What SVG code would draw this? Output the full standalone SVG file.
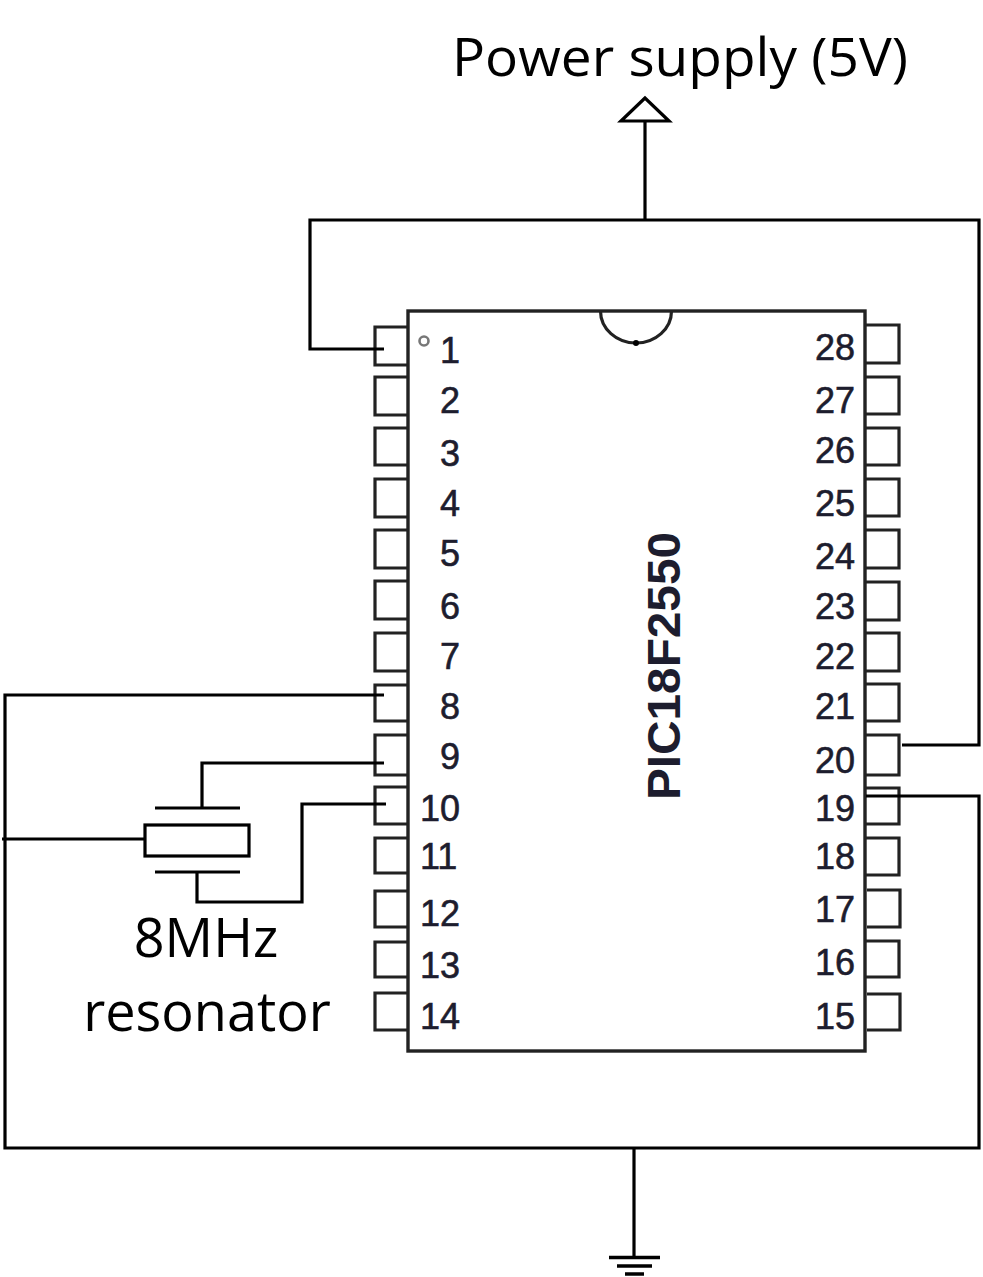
<svg xmlns="http://www.w3.org/2000/svg" width="983" height="1277" viewBox="0 0 983 1277">
<style>
.w{fill:none;stroke:#000;stroke-width:3.2}
.c{fill:none;stroke:#222;stroke-width:3.4}
.p{fill:none;stroke:#222;stroke-width:3.2}
.n{font-family:"Liberation Sans",Arial,sans-serif;font-size:36px;fill:#1d1d2e;stroke:#1d1d2e;stroke-width:.6}
.l{font-family:"Open Sans","Noto Sans",sans-serif;font-size:54px;fill:#000;text-anchor:middle}
</style>
<rect width="983" height="1277" fill="#fff"/>
<g id="chip">
<rect class="c" x="408" y="311" width="457" height="740"/>
<path class="p" d="M600.500 311A35.500 32 0 0 0 671.500 311"/>
<circle cx="636" cy="343" r="3" fill="#000"/>
<circle cx="424" cy="341" r="4.500" fill="none" stroke="#777" stroke-width="2.600"/>
<text transform="translate(680 800) rotate(-90)" font-family="Liberation Sans,Arial,sans-serif" font-weight="bold" font-size="47" fill="#1d1d2e" textLength="268" lengthAdjust="spacingAndGlyphs">PIC18F2550</text>
</g>
<g id="pins-left">
<path class="p" d="M408 327H375V365H408M408 377H375V415H408M408 428H375V465H408M408 479H375V517H408M408 530H375V568H408M408 581H375V619H408M408 633H375V671H408M408 685H375V721H408M408 735H375V775H408M408 787H375V824H408M408 838H375V873H408M408 891H375V927H408M408 942H375V977H408M408 993H375V1030H408"/>
</g>
<g id="pins-right">
<path class="p" d="M865 325H899V363H865M865 377H899V414H865M865 428H899V465H865M865 479H899V516H865M865 530H899V568H865M865 582H899V620H865M865 633H899V671H865M865 684H899V721H865M865 735H899V775H865M865 788H899V824H865M865 838H899V875H865M867 890H900V927H867M865 941H899V977H865M867 994H900V1030H867"/>
</g>
<g id="pin-numbers" class="n">
<text x="440" y="363">1</text><text x="440" y="413">2</text><text x="440" y="466">3</text><text x="440" y="516">4</text><text x="440" y="566">5</text><text x="440" y="619">6</text><text x="440" y="669">7</text><text x="440" y="719">8</text><text x="440" y="769">9</text><text x="420" y="821">10</text><text x="420" y="869">11</text><text x="420" y="926">12</text><text x="420" y="978">13</text><text x="420" y="1029">14</text>
<text x="815" y="360">28</text><text x="815" y="413">27</text><text x="815" y="463">26</text><text x="815" y="516">25</text><text x="815" y="569">24</text><text x="815" y="619">23</text><text x="815" y="669">22</text><text x="815" y="719">21</text><text x="815" y="773">20</text><text x="815" y="821">19</text><text x="815" y="869">18</text><text x="815" y="922">17</text><text x="815" y="975">16</text><text x="815" y="1029">15</text>
</g>
<g id="resonator">
<rect class="w" x="145" y="825" width="104" height="31" fill="#fff"/>
<path class="w" d="M155 808H240M155 872H240"/>
<text class="l" x="206" y="957">8MHz</text>
<text class="l" x="207" y="1031">resonator</text>
</g>
<g id="power">
<path class="w" d="M645 98L621 121H669Z"/>
<text class="l" x="680" y="76" font-size="53" style="font-size:53px" textLength="456" lengthAdjust="spacingAndGlyphs">Power supply (5V)</text>
</g>
<g id="ground">
<path d="M609 1257.500H660" stroke="#000" stroke-width="3.500"/>
<path d="M617 1266H652" stroke="#000" stroke-width="3.500"/>
<path d="M625 1274H644" stroke="#000" stroke-width="3.500"/>
</g>
<g id="connectors">
<path class="w" d="M645 121V220"/>
<path class="w" d="M384 349H310V220H979V745H902"/>
<path class="w" d="M866 796H979V1148H5V695H384"/>
<path class="w" d="M634 1148V1257"/>
<path class="w" d="M2 839H145"/>
<path class="w" d="M202 808V763H384"/>
<path class="w" d="M197 872V902H302V804H386"/>
</g>
</svg>
